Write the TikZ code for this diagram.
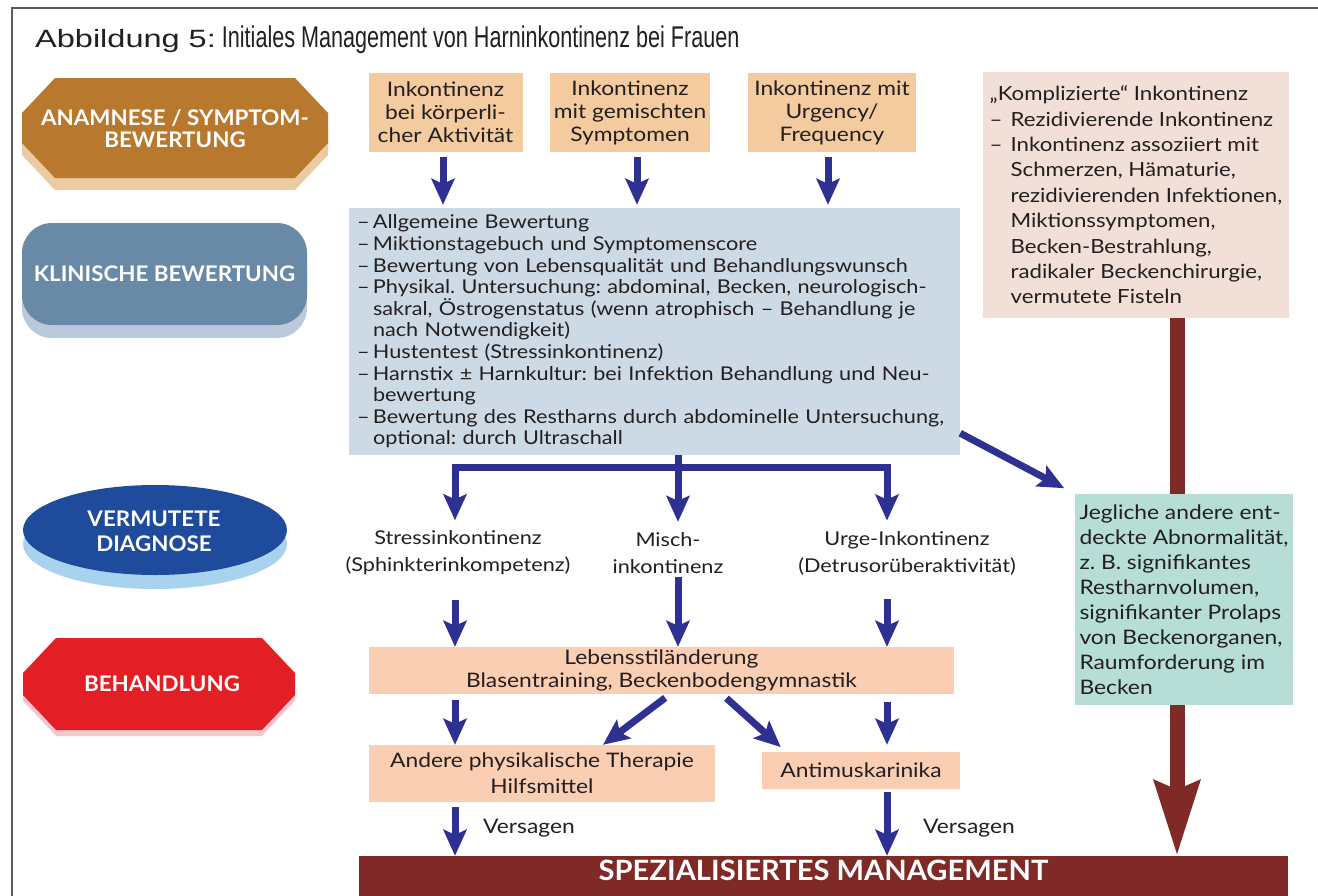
\documentclass[tikz,border=0pt]{standalone}
\usepackage{fontspec}
\setmainfont{Lato}[FakeStretch=1.14]
\newfontfamily\phasefont{Lato}[FakeStretch=1.04]
\newfontfamily\figlabelfont{Liberation Sans}[FakeStretch=1.3]
\newfontfamily\figtitlefont{Liberation Sans}[FakeStretch=0.72]
\usetikzlibrary{arrows.meta,shapes.geometric}
\frenchspacing

\definecolor{ink}{RGB}{35,31,32}
\definecolor{framegray}{RGB}{90,90,90}
\definecolor{boxtan}{RGB}{243,203,158}
\definecolor{boxpeach}{RGB}{250,206,178}
\definecolor{boxmist}{RGB}{205,218,229}
\definecolor{boxblush}{RGB}{242,223,215}
\definecolor{boxsea}{RGB}{182,221,214}
\definecolor{flowblue}{RGB}{46,49,146}
\definecolor{maroon}{RGB}{128,42,40}
\definecolor{ochre}{RGB}{184,120,46}
\definecolor{ochrelight}{RGB}{236,202,162}
\definecolor{steel}{RGB}{104,138,167}
\definecolor{steellight}{RGB}{186,202,220}
\definecolor{royal}{RGB}{30,75,155}
\definecolor{royallight}{RGB}{168,210,238}
\definecolor{signal}{RGB}{227,30,36}
\definecolor{signallight}{RGB}{245,200,205}

\begin{document}
\begin{tikzpicture}[x=1pt,y=-1pt,
  phase/.style={text=white, inner sep=0pt, align=center,
    font=\phasefont\bfseries\fontsize{21.5}{22}\selectfont},
  filledbox/.style={inner sep=0pt, text=ink},
  topbox/.style={filledbox, fill=boxtan, minimum height=79pt, align=center,
    font=\fontsize{20}{23}\selectfont},
  listbox/.style={filledbox, align=left, inner ysep=0pt},
  diag/.style={text=ink, align=center, font=\fontsize{19}{27}\selectfont},
  plain/.style={text=ink, inner sep=0pt, font=\fontsize{20}{23}\selectfont},
  flow/.style={draw=flowblue, line width=7pt,
    -{Stealth[length=26pt,width=23pt,inset=5pt]}},
  flowboth/.style={draw=flowblue, line width=7pt,
    {Stealth[length=26pt,width=23pt,inset=5pt]}-{Stealth[length=26pt,width=23pt,inset=5pt]}},
]
\useasboundingbox (0,0) rectangle (1318,895);
\clip (0,0) rectangle (1318,895);
\fill[white] (0,0) rectangle (1318,895);

% outer frame
\draw[framegray, line width=1.6pt] (12,900) -- (12,8) -- (1330,8);

% heading
\node[anchor=base west, inner sep=0pt, text=ink] (heading) at (35,47)
  {{\figlabelfont\fontsize{25}{25}\selectfont Abbildung 5:}\hspace{6pt}{\figtitlefont\fontsize{30}{30}\selectfont Initiales Management von Harninkontinenz bei Frauen}};

% phase markers on the left
\fill[ochrelight] (55,90) -- (295,90) -- (328,125) -- (328,155) -- (295,190) -- (55,190) -- (22,155) -- (22,125) -- cycle;
\fill[ochre] (55,78) -- (295,78) -- (328,113) -- (328,143) -- (295,178) -- (55,178) -- (22,143) -- (22,113) -- cycle;
\node[phase] (phaseA) at (175,129) {ANAMNESE / SYMPTOM-\\BEWERTUNG};

\fill[steellight, rounded corners=30pt] (22,236) rectangle (307,338);
\fill[steel, rounded corners=30pt] (22,223) rectangle (307,325);
\node[phase] (phaseB) at (164.5,274) {KLINISCHE BEWERTUNG};

\fill[royallight] (155,544) ellipse [x radius=132, y radius=45];
\fill[royal] (155,530) ellipse [x radius=132, y radius=45];
\node[phase, font=\phasefont\bfseries\fontsize{21.5}{25}\selectfont] (phaseC) at (154,531) {VERMUTETE\\DIAGNOSE};

\fill[signallight] (56,644) -- (262,644) -- (295,679) -- (295,701) -- (262,736) -- (56,736) -- (23,701) -- (23,679) -- cycle;
\fill[signal] (56,638) -- (262,638) -- (295,673) -- (295,695) -- (262,730) -- (56,730) -- (23,695) -- (23,673) -- cycle;
\node[phase] (phaseD) at (162,684) {BEHANDLUNG};

% symptom groups
\node[topbox, minimum width=154pt] (sym1) at (445.5,112.5) {Inkontinenz\\bei körperli-\\cher Aktivität};
\node[topbox, minimum width=160pt] (sym2) at (630,112.5) {Inkontinenz\\mit gemischten\\Symptomen};
\node[topbox, minimum width=168pt] (sym3) at (832,112.5) {Inkontinenz mit\\Urgency/\\Frequency};

% clinical assessment
\node[listbox, fill=boxmist, minimum height=247pt, text width=595pt, inner xsep=8pt,
  font=\fontsize{19}{21.6}\selectfont] (assess) at (654.5,331.5)
  {\makebox[16pt][l]{–}Allgemeine Bewertung\\
   \makebox[16pt][l]{–}Miktionstagebuch und Symptomenscore\\
   \makebox[16pt][l]{–}Bewertung von Lebensqualität und Behandlungswunsch\\
   \makebox[16pt][l]{–}Physikal. Untersuchung: abdominal, Becken, neurologisch-\\
   \hspace*{16pt}sakral, Östrogenstatus (wenn atrophisch – Behandlung je\\
   \hspace*{16pt}nach Notwendigkeit)\\
   \makebox[16pt][l]{–}Hustentest (Stressinkontinenz)\\
   \makebox[16pt][l]{–}Harnstix ± Harnkultur: bei Infektion Behandlung und Neu-\\
   \hspace*{16pt}bewertung\\
   \makebox[16pt][l]{–}Bewertung des Restharns durch abdominelle Untersuchung,\\
   \hspace*{16pt}optional: durch Ultraschall};

% complicated incontinence
\node[listbox, fill=boxblush, minimum width=306pt, minimum height=246pt,
  font=\fontsize{19.5}{25.4}\selectfont] (complex) at (1136,195)
  {„Komplizierte“ Inkontinenz\\
   \makebox[21pt][l]{–}Rezidivierende Inkontinenz\\
   \makebox[21pt][l]{–}Inkontinenz assoziiert mit\\
   \hspace*{21pt}Schmerzen, Hämaturie,\\
   \hspace*{21pt}rezidivierenden Infektionen,\\
   \hspace*{21pt}Miktionssymptomen,\\
   \hspace*{21pt}Becken-Bestrahlung,\\
   \hspace*{21pt}radikaler Beckenchirurgie,\\
   \hspace*{21pt}vermutete Fisteln};

% presumed diagnoses
\node[diag] (dStress) at (458,553) {Stressinkontinenz\\(Sphinkterinkompetenz)};
\node[diag] (dMixed) at (668,553) {Misch-\\inkontinenz};
\node[diag] (dUrge) at (907,553) {Urge-Inkontinenz\\(Detrusorüberaktivität)};

% treatment
\node[filledbox, fill=boxpeach, minimum width=585pt, minimum height=47pt, align=center,
  font=\fontsize{20}{23}\selectfont] (lifestyle) at (661.5,670.5)
  {Lebensstiländerung\\Blasentraining, Beckenbodengymnastik};
\node[filledbox, fill=boxpeach, minimum width=346pt, minimum height=57pt, align=center,
  font=\fontsize{20}{26}\selectfont] (physio) at (542,773.5)
  {Andere physikalische Therapie\\Hilfsmittel};
\node[filledbox, fill=boxpeach, minimum width=198pt, minimum height=37pt,
  font=\fontsize{20}{23}\selectfont] (antimusc) at (861,770.5) {Antimuskarinika};

% specialised management
\node[fill=maroon, text=white, inner sep=0pt, minimum width=929pt, minimum height=44pt,
  text height=19pt, text depth=15pt, font=\phasefont\bfseries\fontsize{28}{28}\selectfont]
  (special) at (823.5,878) {SPEZIALISIERTES MANAGEMENT};

% column guides for the connectors
\coordinate (colA) at (443,0);
\coordinate (colB) at (637,0);
\coordinate (colC) at (828,0);
\coordinate (colL) at (455,0);
\coordinate (colM) at (678,0);
\coordinate (colR) at (887,0);
\coordinate (colRed) at (1177,0);
\coordinate (tee) at (678,467);

% direct referral (runs behind the finding box)
\draw[draw=maroon, line width=15pt, -{Stealth[length=74pt,width=44pt,inset=8pt]}]
  (complex.south -| colRed) -- (special.north -| colRed);

% other findings
\node[listbox, fill=boxsea, minimum width=218pt, minimum height=211pt,
  font=\fontsize{20}{25}\selectfont] (finding) at (1184,599.5)
  {Jegliche andere ent-\\deckte Abnormalität,\\z. B. signifikantes\\Restharnvolumen,\\signifikanter Prolaps\\von Beckenorganen,\\Raumforderung im\\Becken};

% symptom groups to assessment
\draw[flow, shorten <=5pt, shorten >=3pt] (sym1.south -| colA) -- (assess.north -| colA);
\draw[flow, shorten <=5pt, shorten >=3pt] (sym2.south -| colB) -- (assess.north -| colB);
\draw[flow, shorten <=5pt, shorten >=3pt] (sym3.south -| colC) -- (assess.north -| colC);

% assessment to diagnoses
\draw[flowboth, shorten <=7pt, shorten >=7pt] (dStress.north -| colL) -- (tee -| colL) -- (tee -| colR) -- (dUrge.north -| colR);
\draw[flow, shorten >=7pt] (assess.south -| colM) -- (dMixed.north -| colM);
\draw[flow, shorten >=12pt] ([yshift=22pt]assess.south east) -- (finding.north west);

% diagnoses to treatment
\draw[flow, shorten <=21pt] (dStress.south -| colL) -- (lifestyle.north -| colL);
\draw[flow] (dMixed.south -| colM) -- (lifestyle.north -| colM);
\draw[flow, shorten <=21pt] (dUrge.south -| colR) -- (lifestyle.north -| colR);

% second-line treatment
\draw[flow, shorten <=6pt] (lifestyle.south -| colL) -- (physio.north -| colL);
\draw[flow, shorten <=6pt] ([xshift=8.5pt]lifestyle.south) -- ([xshift=61pt]physio.north);
\draw[flow, shorten <=6pt, shorten >=7pt] ([xshift=60.5pt]lifestyle.south) -- ([xshift=-75pt]antimusc.north);
\draw[flow, shorten <=8pt, shorten >=7pt] (lifestyle.south -| colR) -- (antimusc.north -| colR);

% failure leads to specialised management
\draw[flow, shorten <=5pt] (physio.south -| colL) -- (special.north -| colL);
\draw[flow, shorten <=3pt] (antimusc.south -| colR) -- (special.north -| colR);
\node[plain, anchor=base west] (fail1) at (483,833) {Versagen};
\node[plain, anchor=base west] (fail2) at (923,833) {Versagen};
\end{tikzpicture}
\end{document}
